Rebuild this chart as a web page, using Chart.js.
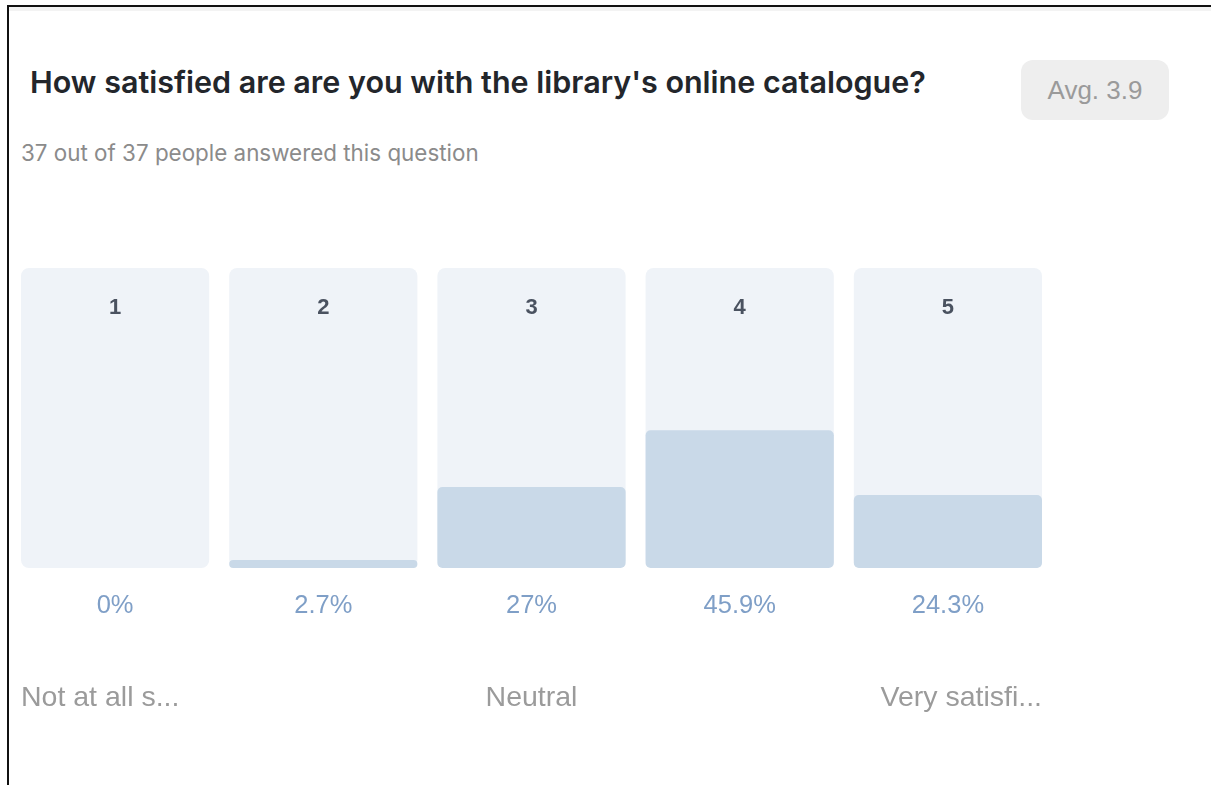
<!DOCTYPE html>
<html>
<head>
<meta charset="utf-8">
<script src="https://cdn.jsdelivr.net/npm/chart.js@4.4.1/dist/chart.umd.min.js"></script>
<style>
  html, body { margin: 0; padding: 0; background: #fff; }
  body { width: 1211px; height: 785px; position: relative; overflow: hidden; }
  .frame { position: absolute; left: 7px; top: 5px; right: 0; bottom: 0;
           border-top: 2px solid #111; border-left: 2px solid #111; }
  .frame::before { content: ""; position: absolute; left: 0; right: 0; top: 0; height: 4px; background: #f3f3f3; }
  .title { position: absolute; left: 30px; top: 64px; font-family: Inter, "Noto Sans", sans-serif;
           font-weight: 600; font-size: 30.5px; line-height: 36px; color: #23262b; white-space: nowrap; }
  .sub { position: absolute; left: 21px; top: 139px; font-family: Inter, "Noto Sans", sans-serif;
         font-size: 22.4px; line-height: 28px; color: #8b8b8b; white-space: nowrap; }
  .avg { position: absolute; left: 1021px; top: 60px; width: 148px; height: 60px; border-radius: 12px;
         background: #eeeeee; color: #9a9a9a; font-family: "Liberation Sans", Arial, sans-serif;
         font-size: 26px; line-height: 60px; text-align: center; }
  #wrap { position: absolute; left: 0; top: 240px; width: 1100px; height: 500px; }
</style>
</head>
<body>
<div class="frame"></div>
<div class="title">How satisfied are are you with the library's online catalogue?</div>
<div class="sub">37 out of 37 people answered this question</div>
<div class="avg">Avg. 3.9</div>
<div id="wrap"><canvas id="chart"></canvas></div>
<script>
const scores = ["1", "2", "3", "4", "5"];
const percents = [0, 2.7, 27, 45.9, 24.3];
const fullBars = [100, 100, 100, 100, 100];
const scaleLabels = ["Not at all s...", "", "Neutral", "", "Very satisfi..."];

// draws the score numbers, the percentages and the scale labels
const labelPlugin = {
  id: "labels",
  afterDatasetsDraw(chart) {
    const ctx = chart.ctx;
    const meta = chart.getDatasetMeta(1);
    ctx.save();
    ctx.textBaseline = "middle";
    meta.data.forEach((bar, i) => {
      ctx.textAlign = "center";
      ctx.font = "bold 22px 'Liberation Sans', Arial, sans-serif";
      ctx.fillStyle = "#4a5260";
      ctx.fillText(scores[i], bar.x, 68);
      ctx.font = "25.5px 'Liberation Sans', Arial, sans-serif";
      ctx.fillStyle = "#7f9fc7";
      ctx.fillText(percents[i] + "%", bar.x, 366);
      const lbl = scaleLabels[i];
      if (lbl) {
        const half = bar.width / 2;
        ctx.font = "28.5px 'Liberation Sans', Arial, sans-serif";
        ctx.fillStyle = "#9b9b9b";
        if (i === 0) {
          ctx.textAlign = "left";
          ctx.fillText(lbl, bar.x - half, 458);
        } else if (i === scores.length - 1) {
          ctx.textAlign = "right";
          ctx.fillText(lbl, bar.x + half, 458);
        } else {
          ctx.fillText(lbl, bar.x, 458);
        }
      }
    });
    ctx.restore();
  }
};

new Chart(document.getElementById("chart"), {
  type: "bar",
  data: {
    labels: scores,
    datasets: [
      {
        data: percents,
        backgroundColor: "#c9d9e8",
        borderRadius: 5,
        borderSkipped: false,
        grouped: false,
        order: 0
      },
      {
        data: fullBars,
        backgroundColor: "#eff3f8",
        borderRadius: 8,
        borderSkipped: false,
        grouped: false,
        order: 1
      }
    ]
  },
  options: {
    responsive: true,
    maintainAspectRatio: false,
    animation: false,
    events: [],
    barPercentage: 0.904,
    categoryPercentage: 1,
    layout: { padding: { left: 11, right: 48, top: 28, bottom: 172 } },
    plugins: { legend: { display: false }, tooltip: { enabled: false } },
    scales: {
      x: { display: false },
      y: { display: false, min: 0, max: 100 }
    }
  },
  plugins: [labelPlugin]
});
</script>
</body>
</html>
